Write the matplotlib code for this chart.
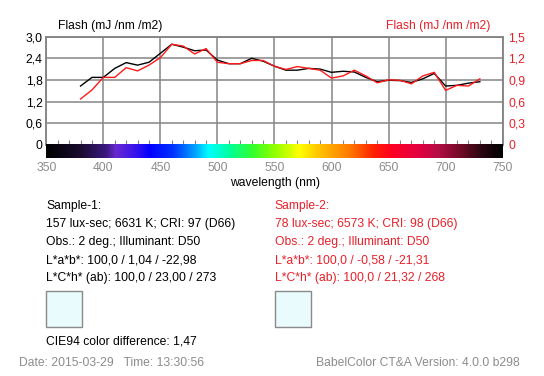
import numpy as np
import matplotlib
matplotlib.use("Agg")
import matplotlib.pyplot as plt
from matplotlib.colors import LinearSegmentedColormap
from matplotlib.ticker import MultipleLocator

plt.rcParams['font.family'] = ['Liberation Sans', 'DejaVu Sans']

# ---- data ----
wavelengths = [380, 390, 400, 410, 420, 430, 440, 450, 460, 470, 480, 490, 500,
               510, 520, 530, 540, 550, 560, 570, 580, 590, 600, 610, 620, 630,
               640, 650, 660, 670, 680, 690, 700, 710, 720, 730]
sample1 = [1.63, 1.87, 1.87, 2.12, 2.28, 2.21, 2.29, 2.54, 2.79, 2.71, 2.61, 2.63, 2.35,
           2.25, 2.25, 2.40, 2.32, 2.18, 2.07, 2.07, 2.12, 2.10, 2.01, 2.04, 2.02, 1.87,
           1.75, 1.79, 1.78, 1.73, 1.83, 1.98, 1.63, 1.65, 1.71, 1.75]
# sample 2 on right axis (0 - 1.5)
sample2 = [0.635, 0.76, 0.935, 0.935, 1.07, 1.025, 1.105, 1.21, 1.395, 1.37, 1.26, 1.335, 1.145,
           1.125, 1.125, 1.17, 1.17, 1.09, 1.045, 1.085, 1.06, 1.035, 0.925, 0.955, 1.035, 0.955,
           0.86, 0.90, 0.895, 0.845, 0.955, 1.005, 0.755, 0.825, 0.815, 0.915]

left_ticks = [0, 0.6, 1.2, 1.8, 2.4, 3.0]
left_labels = ['0', '0,6', '1,2', '1,8', '2,4', '3,0']
right_ticks = [0, 0.3, 0.6, 0.9, 1.2, 1.5]
right_labels = ['0', '0,3', '0,6', '0,9', '1,2', '1,5']
x_ticks = [350, 400, 450, 500, 550, 600, 650, 700, 750]

sample1_lines = ["Sample-1:", "157 lux-sec; 6631 K; CRI: 97 (D66)",
                 "Obs.: 2 deg.; Illuminant: D50", "L*a*b*: 100,0 / 1,04 / -22,98",
                 "L*C*h* (ab): 100,0 / 23,00 / 273"]
sample2_lines = ["Sample-2:", "78 lux-sec; 6573 K; CRI: 98 (D66)",
                 "Obs.: 2 deg.; Illuminant: D50", "L*a*b*: 100,0 / -0,58 / -21,31",
                 "L*C*h* (ab): 100,0 / 21,32 / 268"]

W, H = 544, 376
fig = plt.figure(figsize=(W / 100, H / 100), dpi=100)

def fx(x):
    return x / W

def fy(y):
    return 1 - y / H

GRID = '#858585'
RED = '#e8202a'
FS = 8.7

# main axes
L, R, T, B = 46.3, 502.7, 36.7, 144.7
ax = fig.add_axes([fx(L), fy(B), (R - L) / W, (B - T) / H])
ax.set_xlim(350, 750)
ax.set_ylim(0, 3.0)
ax.plot(wavelengths, sample1, color='black', lw=1.0, zorder=3)
ax.set_yticks(left_ticks)
ax.set_yticklabels(left_labels, fontsize=FS)
ax.set_xticks(x_ticks)
ax.xaxis.set_minor_locator(MultipleLocator(10))
ax.tick_params(axis='x', which='major', length=0, labelbottom=False)
ax.tick_params(axis='x', which='minor', direction='in', length=3.5, color=GRID, width=0.8)
ax.tick_params(axis='y', length=0, pad=2.6)
ax.grid(True, color=GRID, lw=1.1)
ax.set_axisbelow(True)
for s in ['top', 'left', 'right']:
    ax.spines[s].set_color(GRID)
    ax.spines[s].set_linewidth(1.1)
ax.spines['bottom'].set_visible(False)

ax2 = ax.twinx()
ax2.set_ylim(0, 1.5)
ax2.plot(wavelengths, sample2, color='#ff1a1a', lw=1.0, zorder=4)
ax2.set_yticks(right_ticks)
ax2.set_yticklabels(right_labels, fontsize=FS, color=RED)
ax2.tick_params(axis='y', length=0, pad=4)
for s in ['top', 'left', 'right']:
    ax2.spines[s].set_color(GRID)
    ax2.spines[s].set_linewidth(1.1)
ax2.spines['bottom'].set_visible(False)

# spectrum colour bar
cax = fig.add_axes([fx(L), fy(158), (R - L) / W, (158 - 144.2) / H])
spec = LinearSegmentedColormap.from_list('spec', [
    (0.000, '#000000'), (0.075, '#1a0c30'), (0.130, '#3a1a80'), (0.150, '#6a2ad0'),
    (0.200, '#3010f0'), (0.225, '#0000ff'), (0.275, '#0030ff'), (0.325, '#00a0ff'),
    (0.355, '#00ffff'), (0.400, '#00ffa0'), (0.450, '#30ff30'), (0.500, '#90ff00'),
    (0.555, '#ffff00'), (0.600, '#ffc000'), (0.660, '#ff8000'), (0.720, '#ff2000'),
    (0.760, '#ff0025'), (0.820, '#e00040'), (0.860, '#b50d45'), (0.910, '#700a25'),
    (0.960, '#250510'), (1.000, '#000000')])
grad = np.linspace(0, 1, 500).reshape(1, -1)
cax.imshow(grad, aspect='auto', cmap=spec, extent=[350, 750, 0, 1])
cax.set_xlim(350, 750)
cax.set_yticks([])
cax.set_xticks(x_ticks)
cax.set_xticklabels([str(v) for v in x_ticks], fontsize=FS, color='#8c8c8c')
cax.tick_params(axis='x', length=0, pad=3)
for s in cax.spines.values():
    s.set_visible(False)

fig.text(fx(274.7), fy(183), 'wavelength (nm)', fontsize=FS, ha='center', va='center')
fig.text(fx(58), fy(26), 'Flash (mJ /nm /m2)', fontsize=FS, ha='left', va='center')
fig.text(fx(490.3), fy(26), 'Flash (mJ /nm /m2)', fontsize=FS, ha='right', va='center', color=RED)

# sample info
for i, (l1, l2) in enumerate(zip(sample1_lines, sample2_lines)):
    y = 206 + i * 18.1
    fig.text(fx(46), fy(y), l1, fontsize=FS, ha='left', va='center')
    fig.text(fx(274.7), fy(y), l2, fontsize=FS, ha='left', va='center', color=RED)

for x0 in (46, 274.7):
    fig.patches.append(plt.Rectangle((fx(x0), fy(327.3)), 36 / W, 36.3 / H,
                                     transform=fig.transFigure, facecolor='#e9fbfd',
                                     edgecolor='#8a8a8a', lw=1.0))

fig.text(fx(46), fy(341.7), 'CIE94 color difference: 1,47', fontsize=FS, ha='left', va='center')
fig.text(fx(19), fy(362.7), 'Date: 2015-03-29   Time: 13:30:56', fontsize=FS,
         ha='left', va='center', color='#8c8c8c')
fig.text(fx(520), fy(362.7), 'BabelColor CT&A Version: 4.0.0 b298', fontsize=FS,
         ha='right', va='center', color='#8c8c8c')

fig.savefig('out.png', dpi=100)
